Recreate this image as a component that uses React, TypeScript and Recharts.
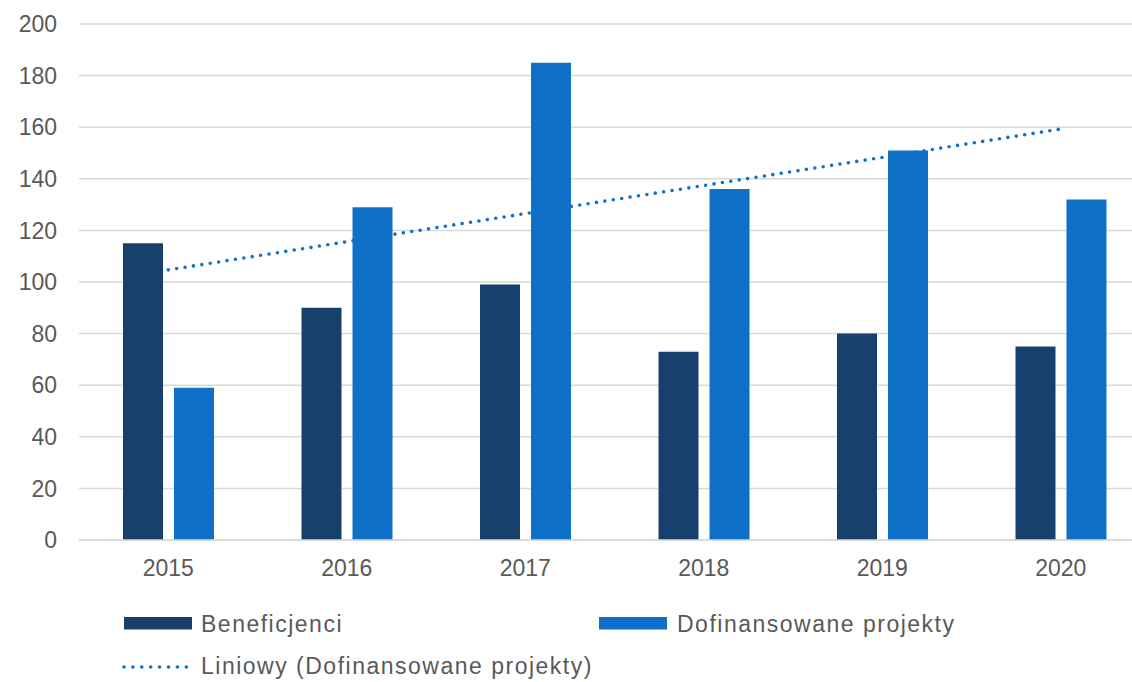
import React from 'react';
import { ComposedChart, Bar, Line, XAxis, YAxis, CartesianGrid } from 'recharts';

const years = ['2015', '2016', '2017', '2018', '2019', '2020'];
const beneficjenci = [115, 90, 99, 73, 80, 75];
const dofinansowane = [59, 129, 185, 136, 151, 132];
const trendLine = [104.7, 115.6, 126.5, 137.4, 148.3, 159.3];
const yTicks = [0, 20, 40, 60, 80, 100, 120, 140, 160, 180, 200];

const seriesNames = {
  ben: 'Beneficjenci',
  dof: 'Dofinansowane projekty',
  trend: 'Liniowy (Dofinansowane projekty)',
};

const DARK = '#18406C';
const BLUE = '#0F70C8';
const TEXT = '#595959';
const FONT = '"Liberation Sans", Arial, sans-serif';

const data = years.map((y, i) => ({
  year: y,
  ben: beneficjenci[i],
  dof: dofinansowane[i],
  trend: trendLine[i],
}));

const legendText: React.CSSProperties = {
  position: 'absolute',
  fontFamily: FONT,
  fontSize: 23,
  letterSpacing: 1.5,
  color: TEXT,
  lineHeight: '26px',
  whiteSpace: 'nowrap',
};

export default function App() {
  return (
    <div style={{ position: 'fixed', left: 0, top: 0, width: 1132, height: 682, overflow: 'hidden', background: '#fff' }}>
      <ComposedChart
        width={1150}
        height={682}
        data={data}
        margin={{ top: 24, right: 0, left: 0, bottom: 92 }}
        barSize={40}
        barGap={11}
      >
        <CartesianGrid vertical={false} stroke="#D9D9D9" strokeWidth={1.5} />
        <XAxis
          dataKey="year"
          height={50}
          axisLine={{ stroke: '#D9D9D9', strokeWidth: 1.5 }}
          tickLine={false}
          tickSize={0}
          tickMargin={20}
          tick={{ fill: TEXT, fontSize: 23, fontFamily: FONT }}
        />
        <YAxis
          width={79}
          domain={[0, 200]}
          ticks={yTicks}
          axisLine={false}
          tickLine={false}
          tickSize={0}
          tickMargin={22}
          tick={{ fill: TEXT, fontSize: 23, fontFamily: FONT }}
        />
        <Bar dataKey="ben" name={seriesNames.ben} fill={DARK} isAnimationActive={false} />
        <Bar dataKey="dof" name={seriesNames.dof} fill={BLUE} isAnimationActive={false} />
        <Line
          dataKey="trend"
          name={seriesNames.trend}
          type="linear"
          stroke={BLUE}
          strokeWidth={3.6}
          strokeDasharray="0 8.5"
          strokeLinecap="round"
          dot={false}
          activeDot={false}
          isAnimationActive={false}
        />
      </ComposedChart>
      <svg style={{ position: 'absolute', left: 0, top: 0 }} width={1132} height={682} pointerEvents="none">
        <rect x={124} y={617} width={68} height={12.5} fill={DARK} />
        <rect x={599} y={617} width={68} height={12.5} fill={BLUE} />
        <line x1={124} y1={667} x2={186.5} y2={667} stroke={BLUE} strokeWidth={3.6} strokeDasharray="0 8.9" strokeLinecap="round" />
      </svg>
      <div style={{ ...legendText, left: 201, top: 611 }}>{seriesNames.ben}</div>
      <div style={{ ...legendText, left: 677, top: 611 }}>{seriesNames.dof}</div>
      <div style={{ ...legendText, left: 201, top: 653 }}>{seriesNames.trend}</div>
    </div>
  );
}
